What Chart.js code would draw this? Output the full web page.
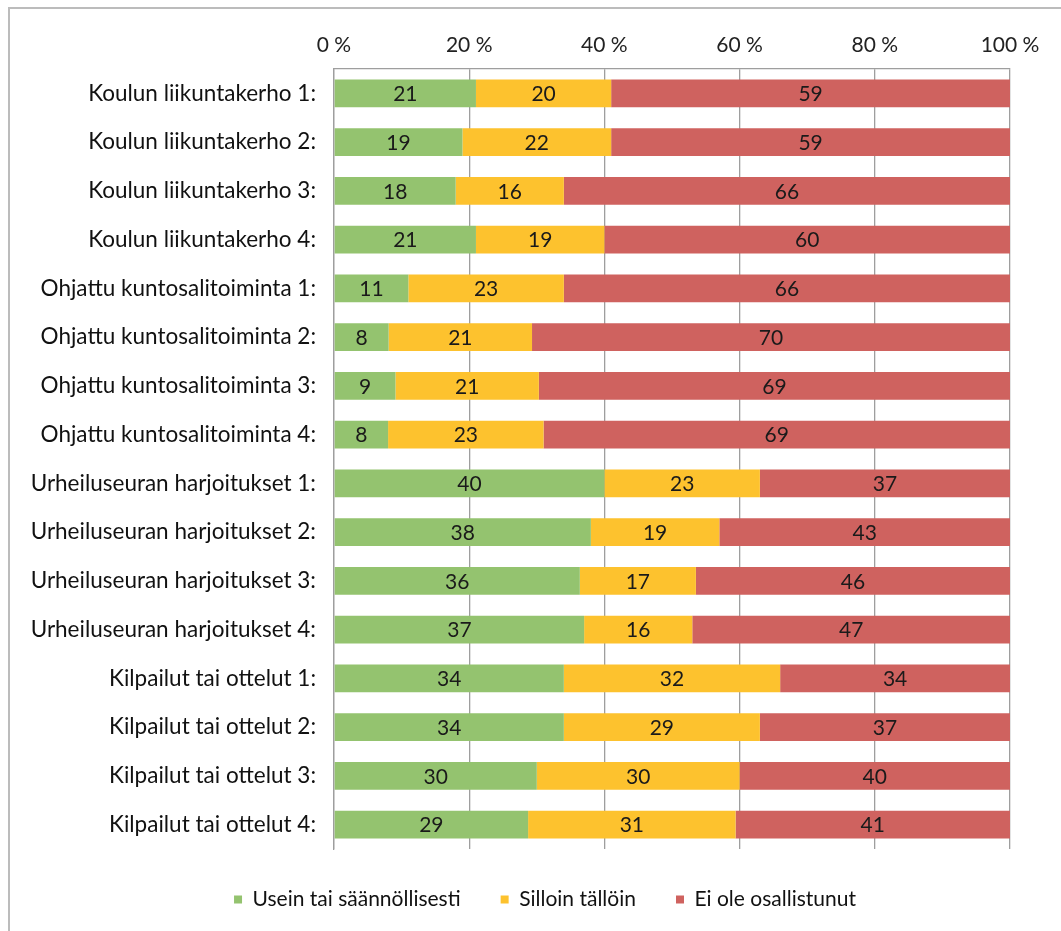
<!DOCTYPE html>
<html>
<head>
<meta charset="utf-8">
<script src="https://cdn.jsdelivr.net/npm/chart.js@4.4.1/dist/chart.umd.min.js"></script>
<style>
html, body { margin: 0; padding: 0; background: #fff; width: 1061px; height: 931px; overflow: hidden; }
#frame { position: absolute; left: 8px; top: 7px; width: 1200px; height: 1100px; border: 2px solid #bcbcbc; box-sizing: border-box; }
#wrap { position: absolute; left: 0; top: 0; width: 1061px; height: 931px; }
</style>
</head>
<body>
<div id="frame"></div>
<div id="wrap"><canvas id="chart"></canvas></div>
<script>
const categories = [
    "Koulun liikuntakerho 1:",
    "Koulun liikuntakerho 2:",
    "Koulun liikuntakerho 3:",
    "Koulun liikuntakerho 4:",
    "Ohjattu kuntosalitoiminta 1:",
    "Ohjattu kuntosalitoiminta 2:",
    "Ohjattu kuntosalitoiminta 3:",
    "Ohjattu kuntosalitoiminta 4:",
    "Urheiluseuran harjoitukset 1:",
    "Urheiluseuran harjoitukset 2:",
    "Urheiluseuran harjoitukset 3:",
    "Urheiluseuran harjoitukset 4:",
    "Kilpailut tai ottelut 1:",
    "Kilpailut tai ottelut 2:",
    "Kilpailut tai ottelut 3:",
    "Kilpailut tai ottelut 4:"
];

const seriesNames = ["Usein tai säännöllisesti", "Silloin tällöin", "Ei ole osallistunut"];

// values as printed on the bars
const usein   = [21, 19, 18, 21, 11, 8, 9, 8, 40, 38, 36, 37, 34, 34, 30, 29];
const silloin = [20, 22, 16, 19, 23, 21, 21, 23, 23, 19, 17, 16, 32, 29, 30, 31];
const eiOle   = [59, 59, 66, 60, 66, 70, 69, 69, 37, 43, 46, 47, 34, 37, 40, 41];

const xTicks = [0, 20, 40, 60, 80, 100];

const colors = ["#94c36f", "#fdc22e", "#cf625f"];
const FONT = "Lato";

const raw = [usein, silloin, eiOle];

// bars are drawn as shares of 100 %
function share(arr) {
    return arr.map((v, i) => v / (usein[i] + silloin[i] + eiOle[i]) * 100);
}

const valueLabels = {
    id: "valueLabels",
    afterDatasetsDraw(chart) {
        const ctx = chart.ctx;
        ctx.save();
        ctx.font = `21px ${FONT}`;
        ctx.fillStyle = "#1a1a1a";
        ctx.textAlign = "center";
        ctx.textBaseline = "middle";
        chart.data.datasets.forEach((ds, i) => {
            chart.getDatasetMeta(i).data.forEach((bar, j) => {
                const p = bar.getCenterPoint();
                ctx.fillText(String(raw[i][j]), p.x, p.y + 1);
            });
        });
        ctx.restore();
    }
};

// legend sits a little right of the canvas centre in the original
const legendShift = {
    id: "legendShift",
    afterLayout(chart) {
        chart.legend.left += 40;
        chart.legend.right += 40;
    }
};

new Chart(document.getElementById("chart"), {
    type: "bar",
    data: {
        labels: categories,
        datasets: raw.map((arr, i) => ({
            label: seriesNames[i],
            data: share(arr),
            backgroundColor: colors[i],
            borderWidth: 0,
            categoryPercentage: 1,
            barPercentage: 0.57
        }))
    },
    options: {
        indexAxis: "y",
        responsive: true,
        maintainAspectRatio: false,
        animation: false,
        layout: { padding: { left: 0, right: 51, top: 0, bottom: 11 } },
        plugins: {
            tooltip: { enabled: false },
            legend: {
                position: "bottom",
                labels: {
                    font: { family: FONT, size: 21 },
                    color: "#111",
                    boxWidth: 8,
                    boxHeight: 8,
                    padding: 40
                }
            }
        },
        scales: {
            x: {
                position: "top",
                stacked: true,
                min: 0,
                max: 100,
                afterBuildTicks: (s) => { s.ticks = xTicks.map(v => ({ value: v })); },
                ticks: {
                    callback: (v) => v + " %",
                    font: { family: FONT, size: 21 },
                    color: "#222",
                    padding: 11,
                    maxRotation: 0
                },
                grid: { color: "#9e9e9e", lineWidth: 1.3, drawTicks: false },
                border: { color: "#9e9e9e", width: 1.3 },
                afterFit: (s) => { s.height = 69; }
            },
            y: {
                stacked: true,
                ticks: {
                    font: { family: FONT, size: 22.5 },
                    color: "#111",
                    padding: 18
                },
                grid: { display: false, drawTicks: false },
                border: { color: "#9e9e9e", width: 1.3 },
                afterFit: (s) => { s.width = 334; }
            }
        }
    },
    plugins: [valueLabels, legendShift]
});
</script>
</body>
</html>
